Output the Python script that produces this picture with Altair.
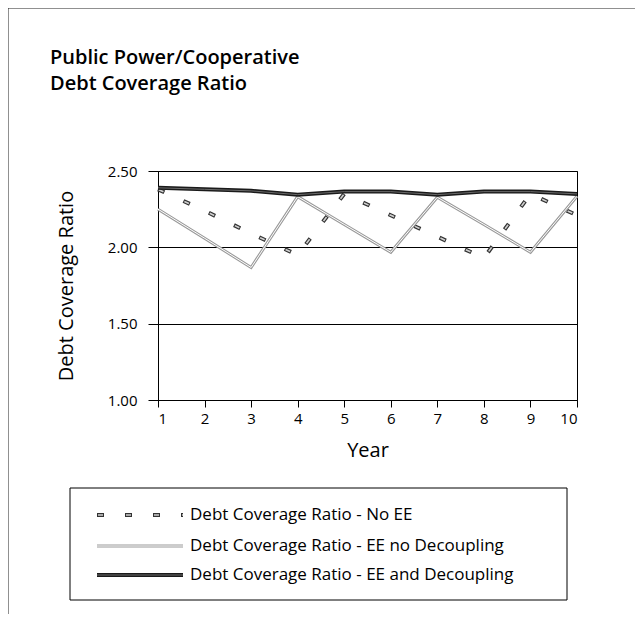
import altair as alt
import pandas as pd

years = [1, 2, 3, 4, 5, 6, 7, 8, 9, 10]
no_ee = [2.38, 2.24, 2.09, 1.95, 2.35, 2.21, 2.07, 1.93, 2.35, 2.21]
ee_no_dec = [2.25, 2.06, 1.868, 2.332, 2.15, 1.968, 2.328, 2.15, 1.968, 2.335]
ee_dec = [2.39, 2.38, 2.37, 2.345, 2.365, 2.365, 2.345, 2.365, 2.365, 2.35]

series_names = [
    "Debt Coverage Ratio - No EE",
    "Debt Coverage Ratio - EE no Decoupling",
    "Debt Coverage Ratio - EE and Decoupling",
]
title_lines = ["Public Power/Cooperative", "Debt Coverage Ratio"]
y_ticks = [1.0, 1.5, 2.0, 2.5]

rows = []
for name, vals in zip(series_names, [no_ee, ee_no_dec, ee_dec]):
    for yr, v in zip(years, vals):
        rows.append({"Year": yr, "Value": v, "Series": name})
df = pd.DataFrame(rows)

FONT = "Open Sans"

x_enc = alt.X("Year:Q", scale=alt.Scale(domain=[1, 10], nice=False),
              axis=alt.Axis(values=years, title="Year", grid=False, tickSize=7,
                            labelPadding=4, titlePadding=14, format="d"))
y_enc = alt.Y("Value:Q", scale=alt.Scale(domain=[1.0, 2.5], nice=False),
              axis=alt.Axis(values=y_ticks, title="Debt Coverage Ratio", format=".2f",
                            tickSize=10, labelPadding=11, titlePadding=31, grid=True))

def series(i):
    return alt.Chart(df).transform_filter(alt.datum.Series == series_names[i])

# No EE: hollow dashes
l_noee_out = series(0).mark_line(color="#333333", strokeWidth=4, strokeDash=[7, 21]).encode(x=x_enc, y=y_enc)
l_noee_in = series(0).mark_line(color="#d0d0d0", strokeWidth=1.6, strokeDash=[5, 23],
                                strokeDashOffset=-1).encode(x="Year:Q", y="Value:Q")
# EE no Decoupling: light outlined line
l_nodec_out = series(1).mark_line(color="#9a9a9a", strokeWidth=3).encode(x="Year:Q", y="Value:Q")
l_nodec_in = series(1).mark_line(color="white", strokeWidth=1).encode(x="Year:Q", y="Value:Q")
# EE and Decoupling: dark thick line
l_dec_out = series(2).mark_line(color="#1a1a1a", strokeWidth=4).encode(x="Year:Q", y="Value:Q")
l_dec_in = series(2).mark_line(color="#6a6a6a", strokeWidth=1).encode(x="Year:Q", y="Value:Q")

deco = pd.DataFrame({"k": [0]})

# Legend (manual, to reproduce the outlined line styles)
leg_y = [344, 375, 404]
sym_x0, sym_x1, lab_x = -61, 25, 32
leg_layers = []
leg_layers.append(alt.Chart(deco).mark_rule(color="#333333", strokeWidth=4, strokeDash=[7, 21]).encode(
    x=alt.value(sym_x0), x2=alt.value(sym_x1), y=alt.value(leg_y[0])))
leg_layers.append(alt.Chart(deco).mark_rule(color="#d0d0d0", strokeWidth=1.6, strokeDash=[5, 23],
                                            strokeDashOffset=-1).encode(
    x=alt.value(sym_x0), x2=alt.value(sym_x1), y=alt.value(leg_y[0])))
leg_layers.append(alt.Chart(deco).mark_rule(color="#9a9a9a", strokeWidth=3).encode(
    x=alt.value(sym_x0), x2=alt.value(sym_x1), y=alt.value(leg_y[1])))
leg_layers.append(alt.Chart(deco).mark_rule(color="white", strokeWidth=1).encode(
    x=alt.value(sym_x0), x2=alt.value(sym_x1), y=alt.value(leg_y[1])))
leg_layers.append(alt.Chart(deco).mark_rule(color="#1a1a1a", strokeWidth=4).encode(
    x=alt.value(sym_x0), x2=alt.value(sym_x1), y=alt.value(leg_y[2])))
leg_layers.append(alt.Chart(deco).mark_rule(color="#6a6a6a", strokeWidth=1).encode(
    x=alt.value(sym_x0), x2=alt.value(sym_x1), y=alt.value(leg_y[2])))
for i, name in enumerate(series_names):
    leg_layers.append(alt.Chart(pd.DataFrame({"t": [name]})).mark_text(
        align="left", baseline="middle", font=FONT, fontSize=17, color="black").encode(
        text="t:N", x=alt.value(lab_x), y=alt.value(leg_y[i])))

legend_box = alt.Chart(deco).mark_rect(fillOpacity=0, stroke="black", strokeWidth=1).encode(
    x=alt.value(-88), x2=alt.value(409), y=alt.value(317), y2=alt.value(429))

title_layers = []
for i, t in enumerate(title_lines):
    title_layers.append(alt.Chart(pd.DataFrame({"t": [t]})).mark_text(
        align="left", baseline="middle", font=FONT, fontSize=20, fontWeight=600, color="black").encode(
        text="t:N", x=alt.value(-108), y=alt.value(-113 + 26 * i)))

frame_top = alt.Chart(deco).mark_rule(color="#222222", strokeWidth=1).encode(
    x=alt.value(-150), x2=alt.value(477), y=alt.value(-163))
frame_left = alt.Chart(deco).mark_rule(color="#222222", strokeWidth=1).encode(
    x=alt.value(-150), y=alt.value(-163), y2=alt.value(443))

chart = alt.layer(
    l_noee_out, l_noee_in, l_nodec_out, l_nodec_in, l_dec_out, l_dec_in,
    legend_box, *leg_layers, *title_layers, frame_top, frame_left
).properties(
    width=419,
    height=229,
    autosize=alt.AutoSizeParams(type="none"),
    padding={"left": 150, "top": 163, "right": 58, "bottom": 214},
).configure(
    background="white"
).configure_view(
    stroke="black", strokeWidth=1
).configure_axis(
    labelFont=FONT, labelFontSize=15, labelColor="black",
    titleFont=FONT, titleFontSize=20, titleFontWeight="normal", titleColor="black",
    domainColor="black", tickColor="black", gridColor="black", gridWidth=1,
)

chart.save("out.html", embed_options={"renderer": "svg", "actions": False})
